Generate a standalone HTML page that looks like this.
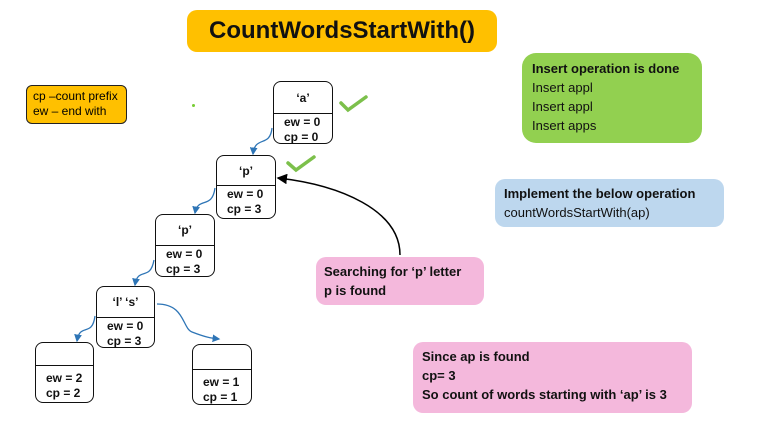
<!DOCTYPE html>
<html><head><style>
body{margin:0;width:758px;height:423px;background:#fff;position:relative;font-family:"Liberation Sans",sans-serif;overflow:hidden}
.b{position:absolute;box-sizing:border-box;border-radius:10px}
.n{position:absolute;box-sizing:border-box;border:1.5px solid #111;border-radius:8px;background:#fff;font-weight:bold;font-size:12px;color:#111}
.n .t{text-align:center;border-bottom:1.5px solid #111;box-sizing:border-box}
.n .v{padding-left:10px;line-height:15px;padding-top:1px}
.tx{font-size:13px;line-height:19px;color:#111}
</style></head><body>
<div class="b" style="left:187px;top:10px;width:310px;height:42px;background:#FFC000;font-weight:bold;font-size:24px;text-align:center;line-height:42px;color:#111">CountWordsStartWith()</div>
<div class="b" style="left:26px;top:85px;width:101px;height:39px;background:#FFC000;border:1.5px solid #222;font-size:12px;line-height:15px;padding:3px 6px;border-radius:6px">cp –count prefix<br>ew – end with</div>
<div style="position:absolute;left:192px;top:104px;width:3px;height:3px;background:#7c3;border-radius:2px"></div>
<div class="b tx" style="left:522px;top:53px;width:180px;height:90px;background:#92D050;padding:6px 10px;border-radius:14px"><b>Insert operation is done</b><br>Insert appl<br>Insert appl<br>Insert apps</div>
<div class="b tx" style="left:495px;top:179px;width:229px;height:48px;background:#BDD7EE;padding:5px 9px"><b>Implement the below operation</b><br>countWordsStartWith(ap)</div>
<div class="b tx" style="left:316px;top:257px;width:168px;height:48px;background:#F4B8DC;padding:5px 8px;font-weight:bold">Searching for ‘p’ letter<br>p is found</div>
<div class="b tx" style="left:413px;top:342px;width:279px;height:71px;background:#F4B8DC;padding:5px 9px;font-weight:bold">Since ap is found<br>cp= 3<br>So count of words starting with ‘ap’ is 3</div>

<div class="n" style="left:273px;top:81px;width:60px;height:63px"><div class="t" style="height:32px;line-height:32px">‘a’</div><div class="v">ew = 0<br>cp = 0</div></div>
<div class="n" style="left:216px;top:155px;width:60px;height:64px"><div class="t" style="height:30px;line-height:30px">‘p’</div><div class="v">ew = 0<br>cp = 3</div></div>
<div class="n" style="left:155px;top:214px;width:60px;height:63px"><div class="t" style="height:31px;line-height:31px">‘p’</div><div class="v">ew = 0<br>cp = 3</div></div>
<div class="n" style="left:96px;top:286px;width:59px;height:62px"><div class="t" style="height:31px;line-height:31px">‘l’ ‘s’</div><div class="v">ew = 0<br>cp = 3</div></div>
<div class="n" style="left:35px;top:342px;width:59px;height:61px"><div class="t" style="height:23px"></div><div class="v" style="padding-top:5px">ew = 2<br>cp = 2</div></div>
<div class="n" style="left:192px;top:344px;width:60px;height:61px"><div class="t" style="height:25px"></div><div class="v" style="padding-top:5px">ew = 1<br>cp = 1</div></div>

<svg width="758" height="423" style="position:absolute;left:0;top:0" fill="none">
<defs>
<marker id="bl" markerWidth="6" markerHeight="6" refX="5" refY="3" orient="auto"><path d="M0,0L6,3L0,6z" fill="#2E75B6"/></marker>
<marker id="bk" markerWidth="7" markerHeight="7" refX="6" refY="3.5" orient="auto"><path d="M0,0L7,3.5L0,7z" fill="#000"/></marker>
</defs>
<g stroke="#2E75B6" stroke-width="1.3" marker-end="url(#bl)">
<path d="M272,128 C270,148 255,135 253,154"/>
<path d="M215,188 C212,210 198,196 195,213"/>
<path d="M154,260 C150,282 138,266 135,285"/>
<path d="M95,316 C92,338 80,322 77,341"/>
<path d="M157,304 C185,304 182,328 192,332 C205,337 210,338 219,339"/>
</g>
<path d="M400,255 C400,210 340,185 278,178" stroke="#000" stroke-width="1.5" marker-end="url(#bk)"/>
<g stroke="#7CC04B" stroke-width="3.5" stroke-linecap="round">
<path d="M341,103 L348,110 L366,97"/>
<path d="M288,163 L296,170 L314,157"/>
</g>
</svg>
</body></html>
